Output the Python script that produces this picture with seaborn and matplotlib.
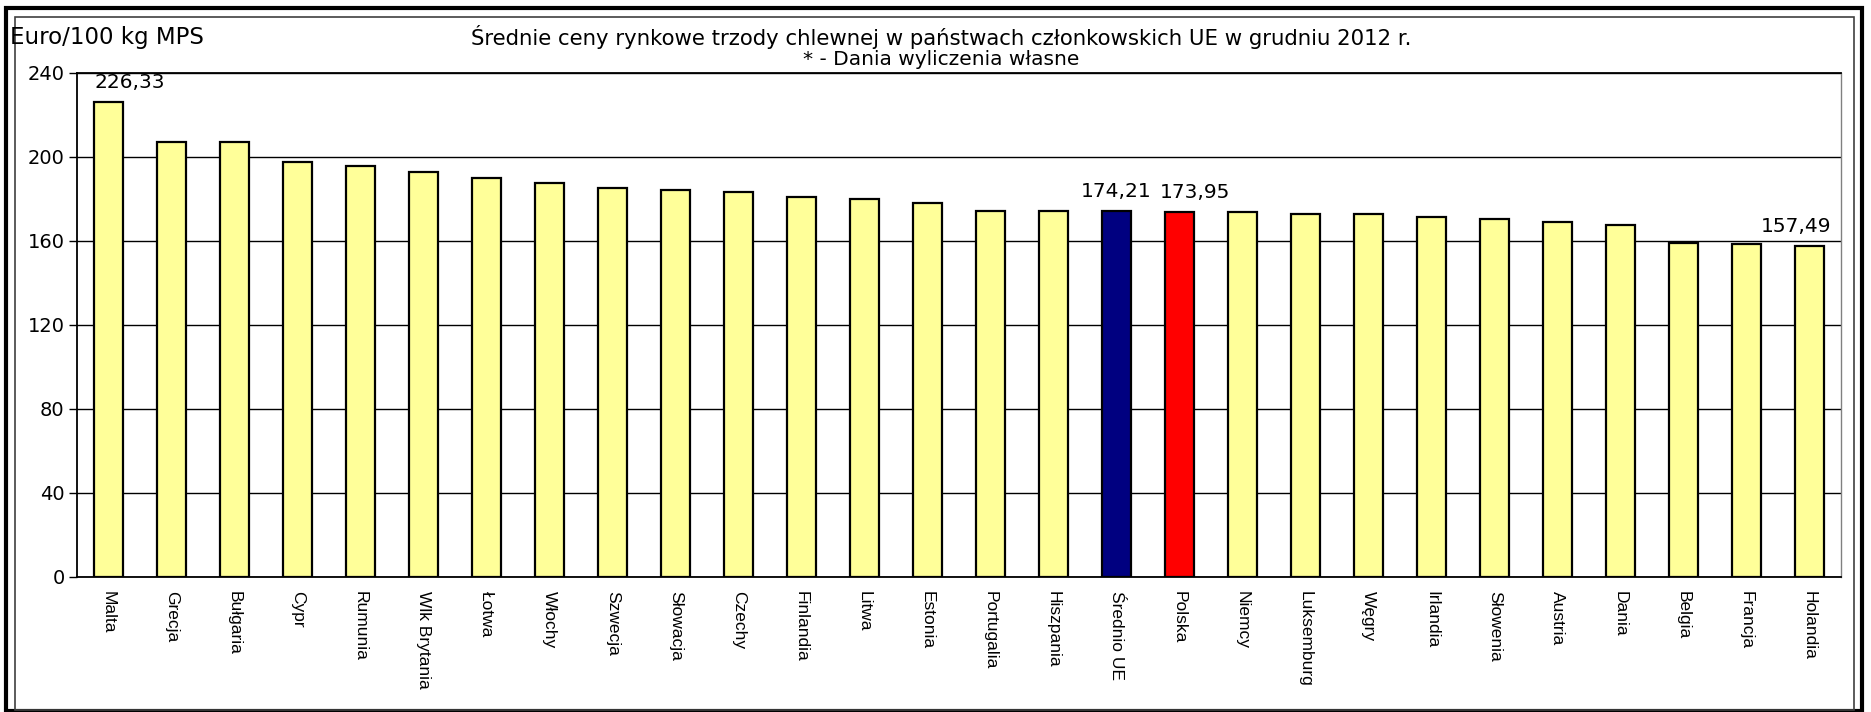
import pandas as pd
import numpy as np
import matplotlib.pyplot as plt
import seaborn as sns
from matplotlib.patches import Rectangle

# Data (Euro/100 kg MPS, December 2012)
countries = ["Malta", "Grecja", "Bułgaria", "Cypr", "Rumunia", "Wlk Brytania", "Łotwa",
             "Włochy", "Szwecja", "Słowacja", "Czechy", "Finlandia", "Litwa", "Estonia",
             "Portugalia", "Hiszpania", "Średnio UE", "Polska", "Niemcy", "Luksemburg",
             "Węgry", "Irlandia", "Słowenia", "Austria", "Dania", "Belgia", "Francja", "Holandia"]
prices = [226.33, 207.2, 207.1, 197.4, 195.7, 192.9, 190.1,
          187.8, 185.0, 184.4, 183.3, 181.0, 179.9, 178.2,
          174.3, 174.2, 174.21, 173.95, 173.6, 173.0,
          172.9, 171.3, 170.2, 169.0, 167.4, 158.9, 158.3, 157.49]
labelled = ["Malta", "Średnio UE", "Polska", "Holandia"]
yticks = [0, 40, 80, 120, 160, 200, 240]

bar_colors = {c: "#FFFF99" for c in countries}
bar_colors["Średnio UE"] = "#000080"
bar_colors["Polska"] = "#FF0000"

# horizontal nudges (points) of the value labels, as placed in the original
label_nudge = {"Malta": 15, "Średnio UE": 0, "Polska": 11, "Holandia": -10}

df = pd.DataFrame({"kraj": countries, "cena": prices})

sns.set_style("white")
plt.rcParams["font.family"] = ["DejaVu Sans"]
plt.rcParams["text.color"] = "black"
plt.rcParams["xtick.color"] = "black"
plt.rcParams["ytick.color"] = "black"

fig = plt.figure(figsize=(18.71, 7.12), dpi=100)
ax = fig.add_axes([0.0412, 0.19, 0.9428, 0.7075])

sns.barplot(data=df, x="kraj", y="cena", hue="kraj", palette=bar_colors, legend=False,
            width=0.45, saturation=1, edgecolor="black", linewidth=1.6, ax=ax)

ax.set_ylim(0, 240)
ax.set_xlim(-0.5, len(countries) - 0.5)
ax.set_yticks(yticks)
ax.set_yticklabels([str(t) for t in yticks], fontsize=14)
ax.yaxis.grid(True, color="black", linewidth=1)
ax.set_axisbelow(True)
ax.set_xlabel("")
ax.set_ylabel("")

# x ticks sit between the categories, labels under bar centres
ax.set_xticks(np.arange(len(countries) + 1) - 0.5, minor=True)
ax.set_xticks(np.arange(len(countries)))
ax.set_xticklabels(countries, rotation=270, va="top", ha="center",
                   family=["Liberation Sans Narrow", "Liberation Sans", "DejaVu Sans"], fontsize=12.5)
ax.tick_params(axis="x", which="major", length=0, pad=10, labelcolor="black")
ax.tick_params(axis="x", which="minor", length=6, width=1, color="black", direction="out")
ax.tick_params(axis="y", length=6, width=1, color="black", direction="out", left=True, pad=3,
               labelcolor="black")

for s in ["left", "bottom", "top"]:
    ax.spines[s].set_color("black")
    ax.spines[s].set_linewidth(1.3)
ax.spines["right"].set_color("#808080")
ax.spines["right"].set_linewidth(1)

# value labels for selected bars
for i, (c, v) in enumerate(zip(countries, prices)):
    if c in labelled:
        ax.annotate(f"{v:.2f}".replace(".", ","), xy=(i, v), xytext=(label_nudge[c], 7),
                    textcoords="offset points", ha="center", va="bottom", fontsize=14.5)

fig.text(0.0055, 0.948, "Euro/100 kg MPS", fontsize=16.5, va="center")
fig.text(0.503, 0.948, "Średnie ceny rynkowe trzody chlewnej w państwach członkowskich UE w grudniu 2012 r.",
         fontsize=15.3, ha="center", va="center")
fig.text(0.503, 0.917, "* - Dania wyliczenia własne", fontsize=14.5, ha="center", va="center")

# chart frames
fig.patches.append(Rectangle((0.003, 0.002), 0.992, 0.987, transform=fig.transFigure,
                             fill=False, edgecolor="black", linewidth=3))
fig.patches.append(Rectangle((0.008, 0.003), 0.983, 0.973, transform=fig.transFigure,
                             fill=False, edgecolor="#404040", linewidth=1.2))

plt.savefig("out.png", dpi=100)
